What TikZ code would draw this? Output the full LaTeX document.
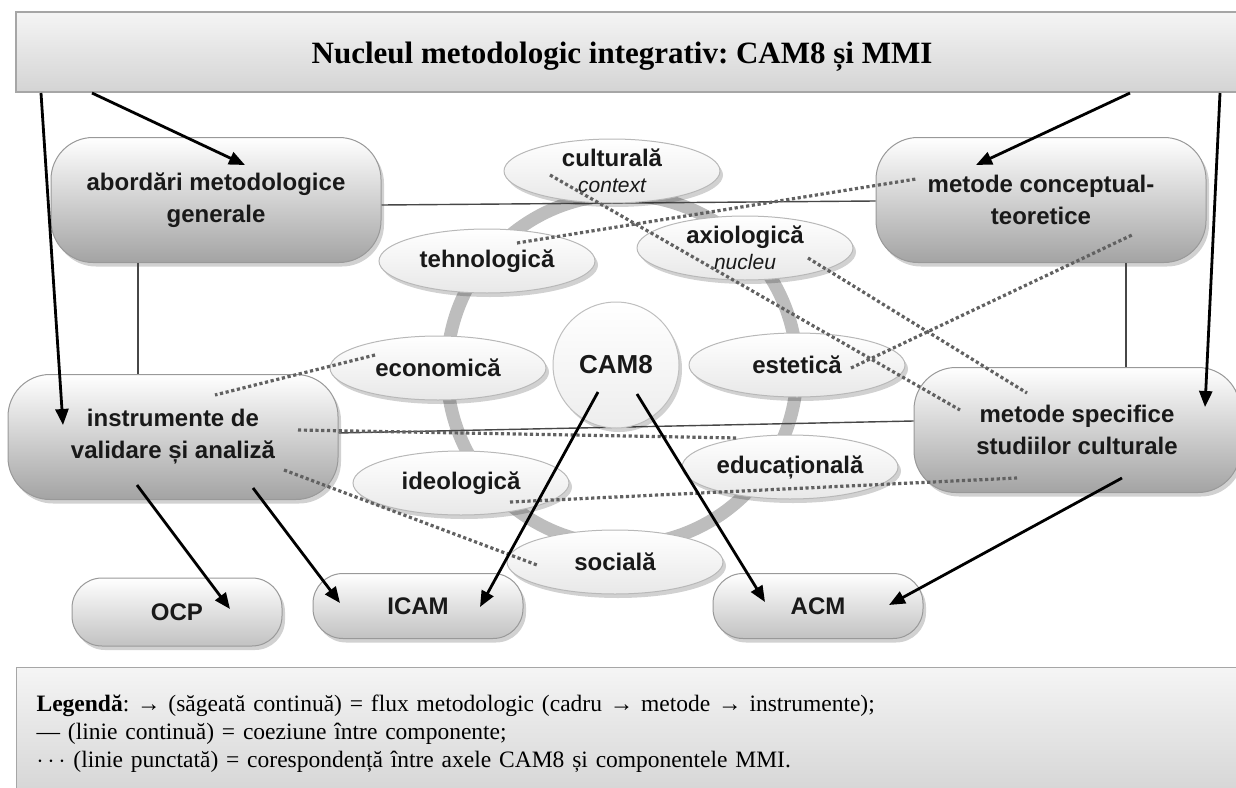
\documentclass[tikz,border=0pt]{standalone}
\usepackage{fontspec}
\setmainfont{Liberation Serif}
\setsansfont{Liberation Sans}
\usetikzlibrary{arrows.meta,shadows,shapes.geometric}
\newcommand{\axisnote}[1]{{\itshape\mdseries\fontsize{21}{24}\selectfont #1}}
\frenchspacing

\begin{document}
\begin{tikzpicture}[x=1pt,y=-1pt,
  lbl/.style={font=\sffamily\bfseries\fontsize{24}{32}\selectfont, align=center, text=black!90},
  softshadow/.style={drop shadow={shadow xshift=3pt, shadow yshift=-4pt, opacity=0.18, fill=black}},
  bigbox/.style={lbl, rectangle, draw=black!40, line width=1pt, rounded corners=42pt,
    minimum width=330pt, minimum height=125pt, top color=white, bottom color=black!36, softshadow},
  smallbox/.style={lbl, rectangle, draw=black!40, line width=1pt, rounded corners=30pt,
    minimum width=210pt, minimum height=65pt, top color=white, bottom color=black!24, softshadow},
  axisnode/.style={lbl, ellipse, draw=black!28, line width=1pt, inner sep=0pt,
    minimum width=216pt, minimum height=64pt, top color=white, bottom color=black!9, softshadow},
  hubnode/.style={lbl, circle, draw=black!25, line width=1pt, minimum size=126pt,
    inner sep=0pt, top color=white, bottom color=black!7, softshadow, font=\sffamily\bfseries\fontsize{26}{30}\selectfont},
  barbox/.style={rectangle, draw=black!35, line width=1.2pt, top color=black!4, bottom color=black!17},
  flow/.style={-{Triangle[length=16pt,width=13pt]}, line width=2.8pt, draw=black},
  bond/.style={draw=black!72, line width=1.4pt},
  corr/.style={draw=black!62, line width=3.2pt, dash pattern=on 3.2pt off 2.6pt}
]
\useasboundingbox (0,0) rectangle (1236,787);

% ring of the eight axes
\draw[black!26, line width=13pt] (622,370) circle[radius=175pt];

% header bar
\node[barbox, minimum width=1228pt, minimum height=80pt, text height=26pt, text depth=4pt,
      font=\bfseries\fontsize{31}{36}\selectfont] (title) at (630,52)
  {Nucleul metodologic integrativ: CAM8 și MMI\hspace*{16pt}};

% methodological blocks
\node[bigbox] (abord) at (216,200) {abordări metodologice\\generale};
\node[bigbox] (concept) at (1041,200) {metode conceptual-\\teoretice};
\node[bigbox] (instr) at (173,437) {instrumente de\\validare și analiză};
\node[bigbox, minimum width=326pt] (specif) at (1077,430) {metode specifice\\studiilor culturale};

% cohesion lines
\draw[bond] (abord.east |- 0,205) -- (concept.west |- 0,201);
\draw[bond] (abord.south -| 138,0) -- (instr.north -| 138,0);
\draw[bond] (concept.south -| 1126,0) -- (specif.north -| 1126,0);
\draw[bond] (instr.east |- 0,433) -- (specif.west |- 0,421);

% axes of CAM8
\node[axisnode] (cult) at (612,171) {culturală\\[-6pt]\axisnote{context}};
\node[axisnode] (tehno) at (487,261) {tehnologică};
\node[axisnode] (axio) at (745,248) {axiologică\\[-6pt]\axisnote{nucleu}};
\node[axisnode] (econ) at (438,368) {economică};
\node[axisnode] (estet) at (797,365) {estetică};
\node[axisnode] (ideo) at (461,483) {ideologică};
\node[axisnode] (educ) at (790,467) {educațională};
\node[axisnode] (soc) at (615,562) {socială};
\node[hubnode] (cam) at (616,365) {CAM8};

% outputs
\node[smallbox, minimum height=68pt] (ocp) at (177,612) {OCP};
\node[smallbox] (icam) at (418,606) {ICAM};
\node[smallbox] (acm) at (818,606) {ACM};

% end points of the correspondence lines
\coordinate (d-cult) at (550,175);
\coordinate (d-spec1) at (960,410);
\coordinate (d-tehno) at (517,243);
\coordinate (d-conc1) at (916,179);
\coordinate (d-axio) at (808,258);
\coordinate (d-spec2) at (1027,393);
\coordinate (d-estet) at (851,368);
\coordinate (d-conc2) at (1132,235);
\coordinate (d-econ) at (375,355);
\coordinate (d-instr1) at (215,395);
\coordinate (d-instr2) at (298,430);
\coordinate (d-educ) at (738,438);
\coordinate (d-instr3) at (284,470);
\coordinate (d-soc) at (537,565);
\coordinate (d-ideo) at (510,502);
\coordinate (d-spec3) at (1017,478);

\draw[corr] (d-cult) -- (d-spec1);
\draw[corr] (d-tehno) -- (d-conc1);
\draw[corr] (d-axio) -- (d-spec2);
\draw[corr] (d-estet) -- (d-conc2);
\draw[corr] (d-econ) -- (d-instr1);
\draw[corr] (d-instr2) -- (d-educ);
\draw[corr] (d-instr3) -- (d-soc);
\draw[corr] (d-ideo) -- (d-spec3);

% end points of the flow arrows
\coordinate (t1) at (92,93);    \coordinate (h1) at (245,165);
\coordinate (t2) at (41,93);    \coordinate (h2) at (63,425);
\coordinate (t3) at (1130,93);  \coordinate (h3) at (976,165);
\coordinate (t4) at (1220,93);  \coordinate (h4) at (1205,407);
\coordinate (t5) at (137,485);  \coordinate (h5) at (230,609);
\coordinate (t6) at (253,488);  \coordinate (h6) at (340,603);
\coordinate (t7) at (598,392);  \coordinate (h7) at (480,607);
\coordinate (t8) at (637,394);  \coordinate (h8) at (765,602);
\coordinate (t9) at (1122,478); \coordinate (h9) at (889,605);

\draw[flow] (t1) -- (h1);
\draw[flow] (t2) -- (h2);
\draw[flow] (t3) -- (h3);
\draw[flow] (t4) -- (h4);
\draw[flow] (t5) -- (h5);
\draw[flow] (t6) -- (h6);
\draw[flow] (t7) -- (h7);
\draw[flow] (t8) -- (h8);
\draw[flow] (t9) -- (h9);

% legend
\node[barbox, anchor=north west, minimum width=1228pt, minimum height=133pt,
      text width=1190pt, align=left, inner xsep=20pt, inner ysep=0pt,
      font=\fontsize{23.5}{28}\selectfont] (legend) at (16,667)
  {\textbf{Legendă}: → (săgeată continuă) = flux metodologic (cadru → metode → instrumente);\\
   — (linie continuă) = coeziune între componente;\\
   $\cdots$ (linie punctată) = corespondență între axele CAM8 și componentele MMI.\\[26pt]};
\end{tikzpicture}
\end{document}
